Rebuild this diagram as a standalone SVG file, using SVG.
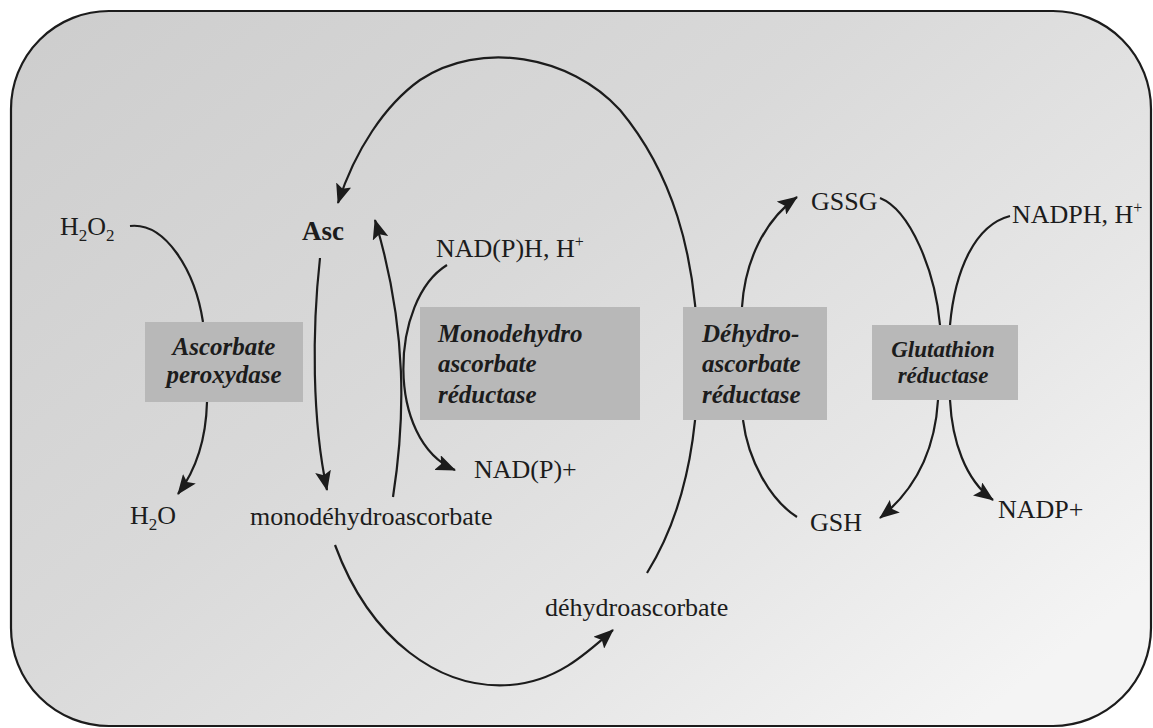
<svg xmlns="http://www.w3.org/2000/svg" width="1153" height="728" viewBox="0 0 1153 728">
  <style>
    .lbl { font-family: "Liberation Serif", "Times New Roman", serif; font-size: 26px; fill: #1c1c1c; }
    .enz { font-family: "Liberation Serif", "Times New Roman", serif; font-size: 25px; font-weight: bold; font-style: italic; fill: #1c1c1c; }
    .box { fill: #b8b8b8; }
    .ln { fill: none; stroke: #1c1c1c; stroke-width: 2.2; }
    .arr { marker-end: url(#ah); }
  </style>
  <defs>
    <linearGradient id="bg" x1="0" y1="0" x2="1" y2="0.8">
      <stop offset="0" stop-color="#cdcdcd"/>
      <stop offset="0.45" stop-color="#d9d9d9"/>
      <stop offset="0.75" stop-color="#e6e6e6"/>
      <stop offset="1" stop-color="#f4f4f4"/>
    </linearGradient>
    <marker id="ah" markerUnits="userSpaceOnUse" markerWidth="22" markerHeight="16" refX="19" refY="8" orient="auto">
      <path d="M0,0 L20,8 L0,16 L4,8 Z" fill="#1c1c1c"/>
    </marker>
  </defs>

  <rect width="1153" height="728" fill="#ffffff"/>
  <g id="frame">
    <rect x="11" y="11" width="1140" height="715" rx="98" ry="98" fill="url(#bg)" stroke="#1c1c1c" stroke-width="2.2"/>
  </g>

  <g id="connectors">
    <path class="ln" d="M 130 226 C 165 222, 195 270, 203 322"/>
    <path class="ln arr" d="M 207 402 C 206 440, 196 470, 178 494"/>
    <path class="ln arr" d="M 320 258 C 312 330, 312 420, 327 490"/>
    <path class="ln arr" d="M 393 497 C 405 420, 408 330, 375 220"/>
    <path class="ln arr" d="M 447 265 C 390 300, 385 440, 455 470"/>
    <path class="ln arr" d="M 335 545 C 370 640, 440 690, 510 685 C 555 682, 585 655, 613 630"/>
    <path class="ln arr" d="M 647 573 C 680 520, 698 450, 698 360 C 697 250, 670 170, 620 110 C 570 55, 480 40, 420 80 C 385 105, 355 150, 338 203"/>
    <path class="ln arr" d="M 742 307 C 745 260, 765 220, 797 197"/>
    <path class="ln" d="M 743 420 C 748 460, 770 500, 797 517"/>
    <path class="ln" d="M 880 198 C 910 210, 935 270, 940 325"/>
    <path class="ln" d="M 1010 216 C 975 225, 955 270, 950 325"/>
    <path class="ln arr" d="M 938 400 C 935 450, 915 490, 880 518"/>
    <path class="ln arr" d="M 950 400 C 952 440, 965 480, 993 500"/>
  </g>

  <g id="apx">
    <rect class="box" x="145" y="322" width="158" height="80"/>
    <text class="enz" x="224" y="355" text-anchor="middle">Ascorbate</text>
    <text class="enz" x="224" y="383" text-anchor="middle">peroxydase</text>
  </g>
  <g id="mdhar">
    <rect class="box" x="420" y="307" width="220" height="113"/>
    <text class="enz" x="438" y="342">Monodehydro</text>
    <text class="enz" x="438" y="372">ascorbate</text>
    <text class="enz" x="438" y="403">réductase</text>
  </g>
  <g id="dhar">
    <rect class="box" x="683" y="307" width="144" height="113"/>
    <text class="enz" x="702" y="342">Déhydro-</text>
    <text class="enz" x="702" y="372">ascorbate</text>
    <text class="enz" x="702" y="403">réductase</text>
  </g>
  <g id="gr">
    <rect class="box" x="872" y="325" width="146" height="75"/>
    <text class="enz" x="943" y="357" text-anchor="middle" style="font-size:23px">Glutathion</text>
    <text class="enz" x="943" y="383" text-anchor="middle" style="font-size:23px">réductase</text>
  </g>

  <g id="h2o2"><text class="lbl" x="60" y="235">H<tspan font-size="17" dy="6">2</tspan><tspan dy="-6">O</tspan><tspan font-size="17" dy="6">2</tspan></text></g>
  <g id="asc"><text class="lbl" x="302" y="240" style="font-weight:bold;font-size:27px">Asc</text></g>
  <g id="nadph1"><text class="lbl" x="436" y="257">NAD(P)H, H<tspan font-size="16" dy="-10">+</tspan></text></g>
  <g id="nadp1"><text class="lbl" x="474" y="478">NAD(P)+</text></g>
  <g id="h2o"><text class="lbl" x="130" y="524">H<tspan font-size="17" dy="6">2</tspan><tspan dy="-6">O</tspan></text></g>
  <g id="mda"><text class="lbl" x="250" y="525">monodéhydroascorbate</text></g>
  <g id="dha"><text class="lbl" x="545" y="616">déhydroascorbate</text></g>
  <g id="gssg"><text class="lbl" x="811" y="210">GSSG</text></g>
  <g id="nadph2"><text class="lbl" x="1012" y="223">NADPH, H<tspan font-size="16" dy="-10">+</tspan></text></g>
  <g id="gsh"><text class="lbl" x="810" y="531">GSH</text></g>
  <g id="nadp2"><text class="lbl" x="998" y="518">NADP+</text></g>
</svg>
